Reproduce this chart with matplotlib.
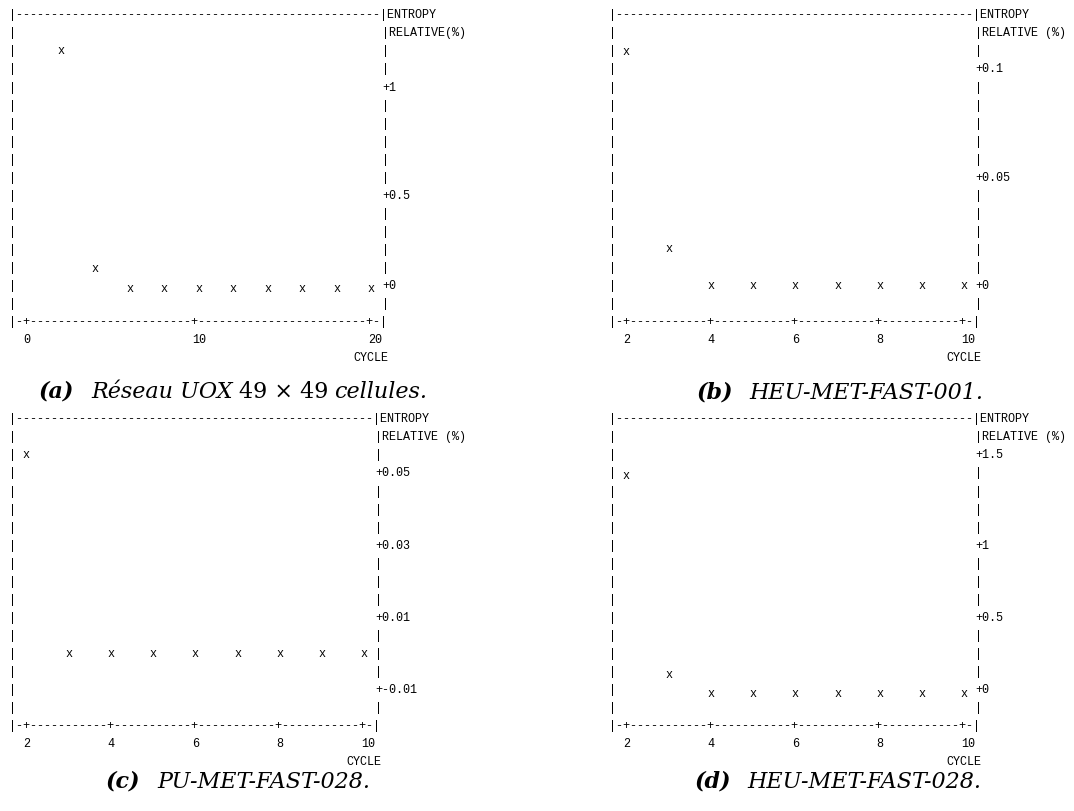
import matplotlib
matplotlib.use("Agg")
import matplotlib.pyplot as plt
from matplotlib.transforms import offset_copy

# Sortie ASCII de l'entropie relative par cycle, 4 cas

W, H = 1074, 812
MONO = "Liberation Mono"
SERIF = "DejaVu Serif"

# ---- donnees ----
cycles_a = [2, 4, 6, 8, 10, 12, 14, 16, 18, 20]
entropy_a = [1.2, 0.1, 0, 0, 0, 0, 0, 0, 0, 0]

cycles_b = [2, 3, 4, 5, 6, 7, 8, 9, 10]
entropy_b = [0.108, 0.017, 0, 0, 0, 0, 0, 0, 0]

cycles_c = [2, 3, 4, 5, 6, 7, 8, 9, 10]
entropy_c = [0.055, 0, 0, 0, 0, 0, 0, 0, 0]

cycles_d = [2, 3, 4, 5, 6, 7, 8, 9, 10]
entropy_d = [1.4, 0.12, 0, 0, 0, 0, 0, 0, 0]

xticks_a = [0, 10, 20]
xticks_bcd = [2, 4, 6, 8, 10]

yticks_a = [1, 0.5, 0]
ylabels_a = ["1", "0.5", "0"]
yticks_b = [0.1, 0.05, 0]
ylabels_b = ["0.1", "0.05", "0"]
yticks_c = [0.05, 0.03, 0.01, -0.01]
ylabels_c = ["0.05", "0.03", "0.01", "-0.01"]
yticks_d = [1.5, 1, 0.5, 0]
ylabels_d = ["1.5", "1", "0.5", "0"]

# ---- grille de caracteres ----
CW = 7.04          # largeur d'un caractere (px)
ROW = 18.06        # hauteur d'une ligne (px)
EM = CW / 0.6
FS = EM * 72 / 100
BASE = 0.28 * EM   # decalage ligne de base / centre de ligne
CAP_FS = 16.0

fig = plt.figure(figsize=(W / 100, H / 100), dpi=100)


def put(x_px, y_px, s, ha="center"):
    # x_px = centre du caractere (ou bord gauche de sa case si ha="left")
    fig.text(x_px / W, 1 - (y_px + BASE) / H, s, family=MONO, fontsize=FS,
             ha=ha, va="baseline")


def ascii_panel(left, top, ncols, cycles, values, xticks, yticks, ylabels,
                zero_row, rows_per_unit, rel_label):
    nrows = 17
    ax = fig.add_axes([left / W, 1 - (top + nrows * ROW) / H,
                       ncols * CW / W, nrows * ROW / H])
    u = (xticks[-1] - xticks[0]) / (ncols - 4)
    ax.set_xlim(xticks[0] - 2 * u, xticks[-1] + 2 * u)
    ax.set_ylim((zero_row - nrows) / rows_per_unit, zero_row / rows_per_unit)
    ax.axis("off")

    # graduations accrochees a la grille de caracteres
    tick_rows = {}
    for v, lab in zip(yticks, ylabels):
        ypx = H - ax.transData.transform((0, v))[1]
        tick_rows[round((ypx - top) / ROW)] = "+" + lab
    tick_cols = {}
    for t in xticks:
        xpx = ax.transData.transform((t, 0))[0]
        tick_cols[round((xpx - left) / CW)] = str(t)

    right = left + ncols * CW
    half = CW / 2
    put(left - half, top, "|" + "-" * (ncols - 1) + "|ENTROPY", ha="left")
    for r in range(1, nrows):
        y = top + r * ROW
        put(left, y, "|")
        if r == 1:
            put(right - half, y, "|" + rel_label, ha="left")
        elif r in tick_rows:
            put(right - half, y, tick_rows[r], ha="left")
        else:
            put(right, y, "|")

    bottom = ["-"] * (ncols + 1)
    bottom[0] = bottom[-1] = "|"
    for c in tick_cols:
        bottom[c] = "+"
    put(left - half, top + nrows * ROW, "".join(bottom), ha="left")
    for c, lab in tick_cols.items():
        put(left + c * CW - half, top + (nrows + 1) * ROW, lab, ha="left")
    put(right - 4 * CW - half, top + (nrows + 2) * ROW, "CYCLE", ha="left")

    # points
    tr = offset_copy(ax.transData, fig=fig, y=-BASE * 72 / 100, units="points")
    for c, v in zip(cycles, values):
        ax.text(c, v, "x", transform=tr, family=MONO, fontsize=FS,
                ha="center", va="baseline", clip_on=False)
    return ax


def caption(cx, base_y, pieces):
    r = fig.canvas.get_renderer()
    items = []
    total = 0
    for s, style, weight, gap in pieces:
        t = fig.text(0, 1 - base_y / H, s, family=SERIF, fontsize=CAP_FS,
                     style=style, weight=weight, ha="left", va="baseline")
        w = t.get_window_extent(r).width
        items.append((t, total))
        total += w + gap
    start = cx - total / 2
    for t, off in items:
        t.set_x((start + off) / W)


ascii_panel(12.3, 15, 53, cycles_a, entropy_a, xticks_a, yticks_a, ylabels_a,
            15.17, 11.0, "RELATIVE(%)")
ascii_panel(612.3, 15, 52, cycles_b, entropy_b, xticks_bcd, yticks_b, ylabels_b,
            15.0, 120.0, "RELATIVE (%)")
ascii_panel(12.3, 419, 52, cycles_c, entropy_c, xticks_bcd, yticks_c, ylabels_c,
            13.0, 200.0, "RELATIVE (%)")
ascii_panel(612.3, 419, 52, cycles_d, entropy_d, xticks_bcd, yticks_d, ylabels_d,
            15.2, 8.6, "RELATIVE (%)")

caption(233, 398, [("(a)", "italic", "bold", 17), ("Réseau UOX", "italic", "normal", 6),
                   ("49 × 49", "normal", "normal", 6), ("cellules.", "italic", "normal", 0)])
caption(840, 399, [("(b)", "italic", "bold", 17), ("HEU-MET-FAST-001.", "italic", "normal", 0)])
caption(238, 788, [("(c)", "italic", "bold", 17), ("PU-MET-FAST-028.", "italic", "normal", 0)])
caption(838, 788, [("(d)", "italic", "bold", 17), ("HEU-MET-FAST-028.", "italic", "normal", 0)])

fig.savefig("out.png", dpi=100)
